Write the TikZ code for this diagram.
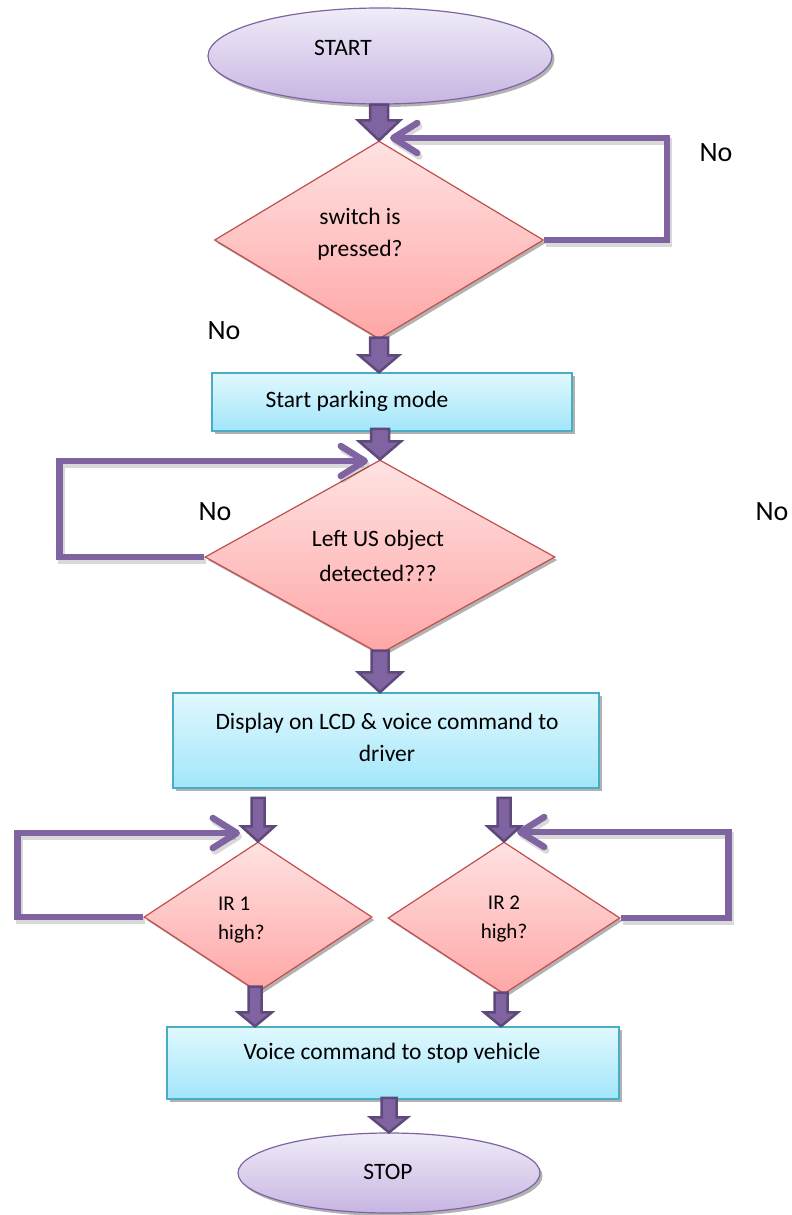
\documentclass[tikz,border=0pt]{standalone}
\usepackage{fontspec}
\setmainfont{Carlito}
\usetikzlibrary{shapes.geometric,arrows.meta,calc,shadows}
\definecolor{purp}{HTML}{8064A2}
\definecolor{purpdark}{HTML}{5F497A}
\definecolor{redb}{HTML}{C0504D}
\definecolor{pinktop}{HTML}{FFE2E2}
\definecolor{pinkbot}{HTML}{FFA6A6}
\definecolor{bluetop}{HTML}{E0F8FE}
\definecolor{bluebot}{HTML}{A2E6FA}
\definecolor{blueb}{HTML}{4BACC6}
\definecolor{lavtop}{HTML}{F0ECF8}
\definecolor{lavbot}{HTML}{C7B5E2}
\tikzset{
 shad/.style={drop shadow={shadow xshift=2.5pt, shadow yshift=-3pt, opacity=0.3, fill=black}},
 term/.style={ellipse, draw=purp, line width=1.2pt, top color=lavtop, bottom color=lavbot, inner sep=0pt, shad},
 decision/.style={diamond, draw=redb, line width=1.2pt, top color=pinktop, bottom color=pinkbot, inner sep=0pt, shad},
 process/.style={rectangle, draw=blueb, line width=1.5pt, top color=bluetop, bottom color=bluebot, inner sep=0pt, shad},
 txt/.style={inner sep=0pt, align=center, font=\fontsize{23.5}{32}\selectfont},
 smalltxt/.style={inner sep=0pt, align=left, font=\fontsize{21}{29}\selectfont},
 notxt/.style={inner sep=0pt, font=\fontsize{28}{32}\selectfont},
 loopline/.style={draw=purp, line width=6.5pt, line join=miter,
   preaction={draw=black, draw opacity=0.15, line width=6.5pt, transform canvas={xshift=2pt,yshift=-3.5pt}},
   -{Straight Barb[length=24pt,width=30pt,round]}},
 blockarr/.style={fill=purp, draw=purpdark, line width=2.5pt, line join=miter},
}
\newcommand{\blkarrow}[5]{\draw[blockarr] ($(#1)+(-#3,0)$) -- ($(#2)+(-#3,-#5)$) -- ($(#2)+(-#4,-#5)$) -- (#2) -- ($(#2)+(#4,-#5)$) -- ($(#2)+(#3,-#5)$) -- ($(#1)+(#3,0)$) -- cycle;}
\begin{document}
\begin{tikzpicture}[x=1pt,y=-1pt]
\useasboundingbox (0,0) rectangle (792,1215);
% shapes
\node[term, minimum width=344pt, minimum height=96pt] (start) at (380,56) {};
\node[decision, minimum width=329pt, minimum height=198pt] (d1) at (379,240) {};
\node[process, minimum width=360pt, minimum height=58pt] (r1) at (392,402) {};
\node[decision, minimum width=350pt, minimum height=194pt] (d2) at (380,557) {};
\node[process, minimum width=426pt, minimum height=95pt] (r2) at (386,740.5) {};
\node[decision, minimum width=228pt, minimum height=150pt] (d3) at (258,917) {};
\node[decision, minimum width=232pt, minimum height=152pt] (d4) at (504,918) {};
\node[process, minimum width=452pt, minimum height=72pt] (r3) at (393,1063) {};
\node[term, minimum width=302pt, minimum height=80pt] (stop) at (389,1173) {};
% texts
\node[txt] (startT) at (343,48) {START};
\node[txt] (d1T) at (360,234) {switch is\\pressed?};
\node[txt] (r1T) at (357,401) {Start parking mode};
\node[txt, font=\fontsize{23.5}{35}\selectfont] (d2T) at (378,556) {Left US object\\detected???};
\node[txt] (r2T) at (387,737) {Display on LCD \& voice command to\\driver};
\node[smalltxt, anchor=west] (d3T) at (218,920) {IR 1\\high?};
\node[smalltxt, align=center] (d4T) at (504,919) {IR 2\\high?};
\node[txt] (r3T) at (392,1053) {Voice command to stop vehicle};
\node[txt] (stopT) at (388,1172) {STOP};
\node[notxt] (no1) at (716,153) {No};
\node[notxt] (no2) at (224,331) {No};
\node[notxt] (no3) at (215,512) {No};
\node[notxt] (no4) at (772,512) {No};
% coordinates
\coordinate (a1s) at (d1.north |- start.south);
\coordinate (a2s) at ($(d1.south)+(0,-2)$);
\coordinate (a2e) at (d1.south |- r1.north);
\coordinate (a3s) at ($(d2.north |- r1.south)+(0,-3)$);
\coordinate (a4s) at ($(d2.south)+(0,-4)$);
\coordinate (a4e) at (d2.south |- r2.north);
\coordinate (a5s) at ($(d3.north |- r2.south)+(0,9)$);
\coordinate (a6s) at ($(d4.north |- r2.south)+(0,9)$);
\coordinate (a7s) at ($(d3.south)+(-3,-6)$);
\coordinate (a7e) at (a7s |- r3.north);
\coordinate (a8s) at ($(d4.south)+(-3,-2)$);
\coordinate (a8e) at (a8s |- r3.north);
\coordinate (a9s) at ($(stop.north |- r3.south)+(0,-2)$);
\coordinate (t1) at (390,138);
\coordinate (t2) at (368,461);
\coordinate (t3) at (240,833);
\coordinate (t4) at (517,832);
% loops
\draw[loopline] (d1.east) -- ++(123,0) |- (t1);
\draw[loopline] (d2.west) -- ++(-145,0) |- (t2);
\draw[loopline] (d3.west) -- ++(-126,0) |- (t3);
\draw[loopline] (d4.east) -- ++(108,0) |- (t4);
% block arrows
\blkarrow{a1s}{d1.north}{9}{21}{20}
\blkarrow{a2s}{a2e}{9}{20}{17}
\blkarrow{a3s}{d2.north}{9}{21}{18}
\blkarrow{a4s}{a4e}{8.5}{22}{20}
\blkarrow{a5s}{d3.north}{6.5}{16.5}{15}
\blkarrow{a6s}{d4.north}{6.5}{16.5}{15}
\blkarrow{a7s}{a7e}{6.5}{17}{14}
\blkarrow{a8s}{a8e}{6.5}{17}{14}
\blkarrow{a9s}{stop.north}{7.5}{18.5}{15}
\end{tikzpicture}
\end{document}
